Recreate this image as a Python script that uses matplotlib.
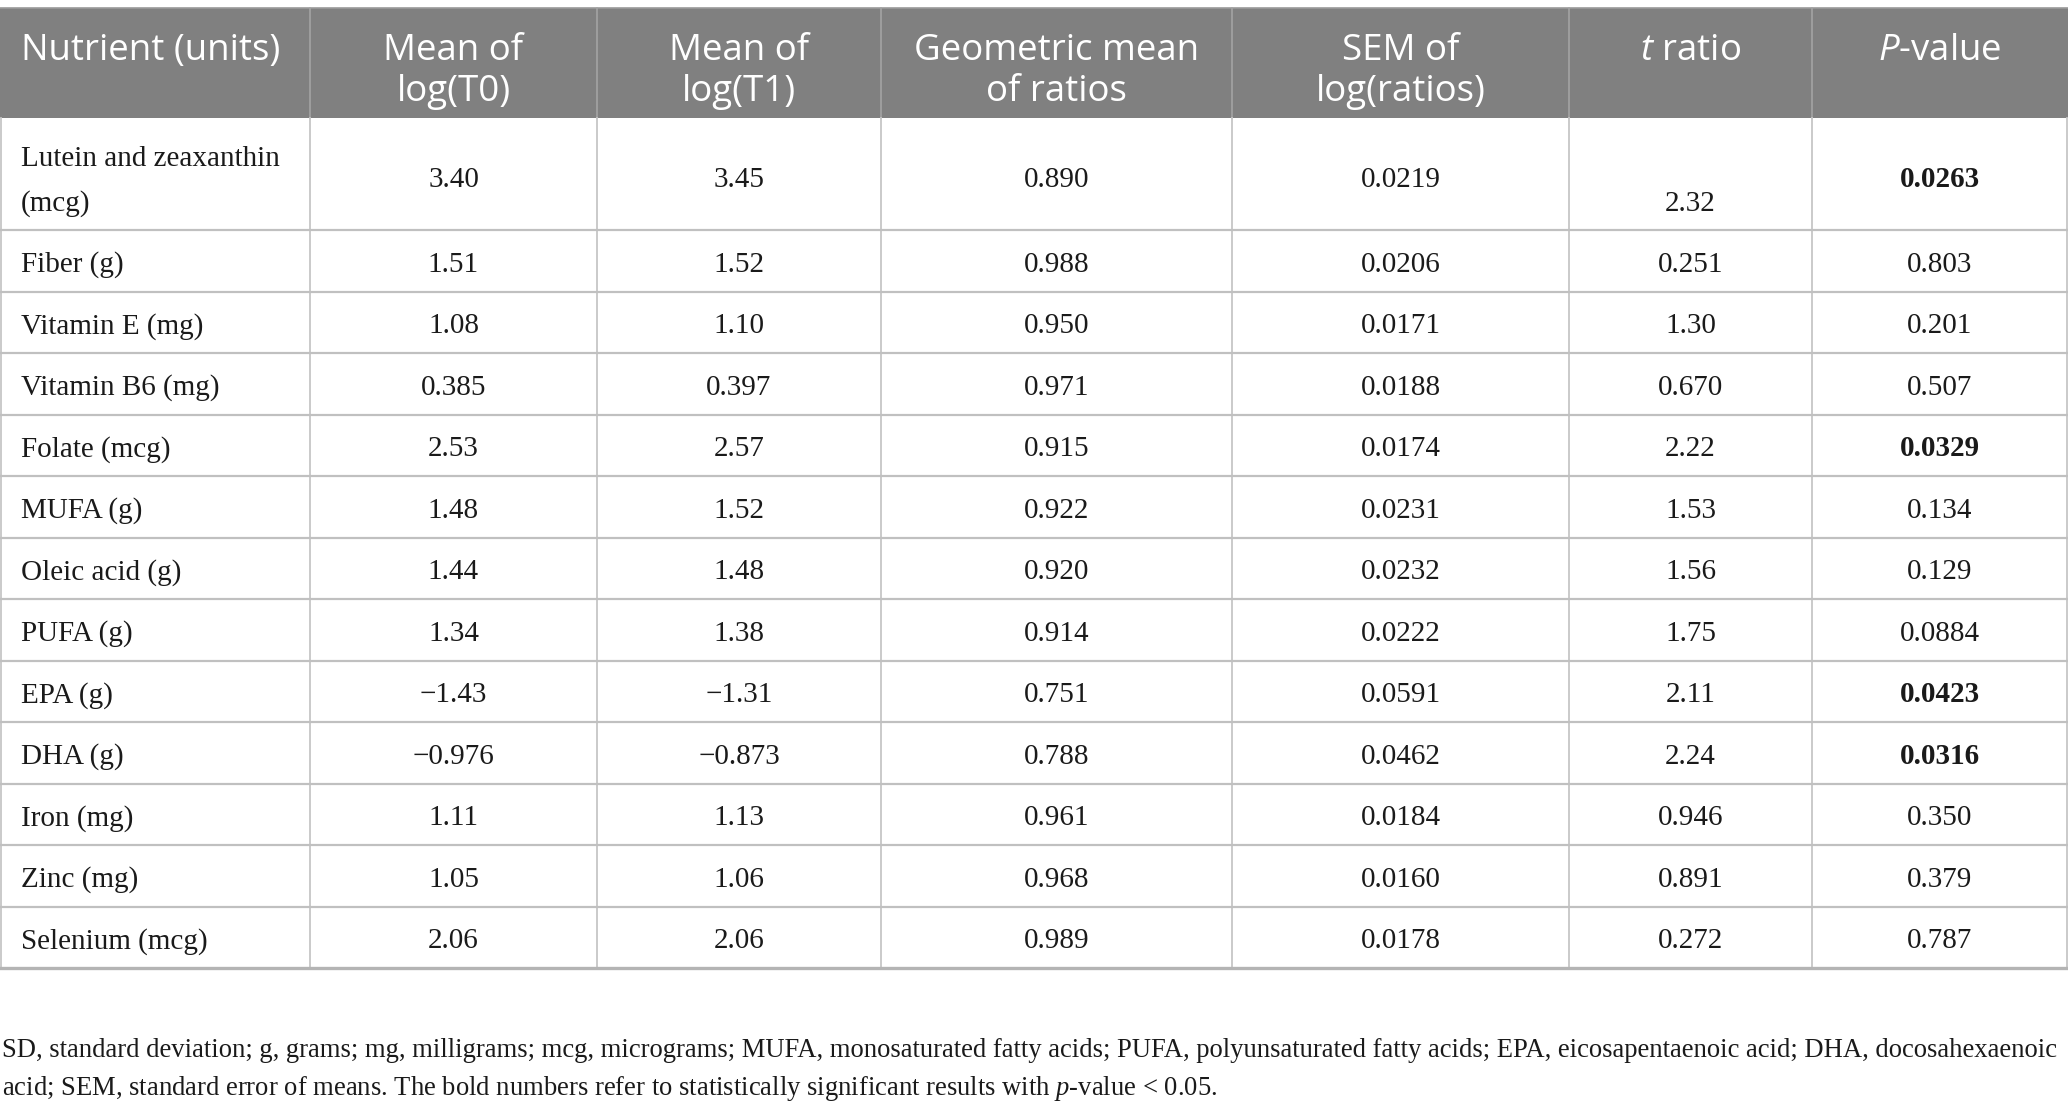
import matplotlib.pyplot as plt

plt.rcParams['mathtext.fontset'] = 'custom'
plt.rcParams['mathtext.rm'] = 'Liberation Serif'
plt.rcParams['mathtext.it'] = 'Liberation Serif:italic'
plt.rcParams['mathtext.sf'] = 'Open Sans:italic'

# table content
headers = ["Nutrient (units)", "Mean of\nlog(T0)", "Mean of\nlog(T1)",
           "Geometric mean\nof ratios", "SEM of\nlog(ratios)",
           r"$\mathsf{t}$ ratio", r"$\mathsf{P}$-value"]
nutrients = ["Lutein and zeaxanthin\n(mcg)", "Fiber (g)", "Vitamin E (mg)", "Vitamin B6 (mg)",
             "Folate (mcg)", "MUFA (g)", "Oleic acid (g)", "PUFA (g)", "EPA (g)", "DHA (g)",
             "Iron (mg)", "Zinc (mg)", "Selenium (mcg)"]
mean_t0 = ["3.40", "1.51", "1.08", "0.385", "2.53", "1.48", "1.44", "1.34", "\u22121.43",
           "\u22120.976", "1.11", "1.05", "2.06"]
mean_t1 = ["3.45", "1.52", "1.10", "0.397", "2.57", "1.52", "1.48", "1.38", "\u22121.31",
           "\u22120.873", "1.13", "1.06", "2.06"]
geo_mean = ["0.890", "0.988", "0.950", "0.971", "0.915", "0.922", "0.920", "0.914", "0.751",
            "0.788", "0.961", "0.968", "0.989"]
sem_log = ["0.0219", "0.0206", "0.0171", "0.0188", "0.0174", "0.0231", "0.0232", "0.0222",
           "0.0591", "0.0462", "0.0184", "0.0160", "0.0178"]
t_ratio = ["2.32", "0.251", "1.30", "0.670", "2.22", "1.53", "1.56", "1.75", "2.11", "2.24",
           "0.946", "0.891", "0.272"]
p_value = ["0.0263", "0.803", "0.201", "0.507", "0.0329", "0.134", "0.129", "0.0884", "0.0423",
           "0.0316", "0.350", "0.379", "0.787"]
footnote = ["SD, standard deviation; g, grams; mg, milligrams; mcg, micrograms; MUFA, monosaturated "
            "fatty acids; PUFA, polyunsaturated fatty acids; EPA, eicosapentaenoic acid; DHA, docosahexaenoic",
            r"acid; SEM, standard error of means. The bold numbers refer to statistically significant "
            r"results with $\mathit{p}$-value < 0.05."]

# layout (pixels of the 2068x1112 image)
col_edges = [0, 310, 597, 881, 1232, 1569, 1812, 2068]
head_top, head_bot = 8, 118
first_bot, row_h = 230, 61.5

fig = plt.figure(figsize=(20.68, 11.12), dpi=100)
ax = fig.add_axes([0, 0, 1, 1])
ax.set_xlim(0, 2068)
ax.set_ylim(1112, 0)
ax.axis('off')
renderer = fig.canvas.get_renderer()


def fit_size(s, width, **kw):
    t = ax.text(0, 0, s, fontsize=20, **kw)
    w = t.get_window_extent(renderer).width
    t.remove()
    return 20 * width / w


head_fs = fit_size("Nutrient (units)", 259, family="Open Sans")
body_fs = fit_size("Lutein and zeaxanthin", 259, family="Liberation Serif")
foot_fs = fit_size(footnote[0], 2057, family="Liberation Serif")

row_edges = [head_bot, first_bot] + [first_bot + row_h * (i + 1) for i in range(len(nutrients) - 1)]
table_bot = row_edges[-1]

# header band
ax.fill_between([0, 2068], head_top, head_bot, color="#808080", lw=0)
ax.plot([0, 2068], [head_top, head_top], color="#9a9a9a", lw=1.2)
for x in col_edges[1:-1]:
    ax.plot([x, x], [head_top, head_bot], color="#a3a3a3", lw=1.2)
    ax.plot([x, x], [head_bot, table_bot], color="#c6c6c6", lw=1.3)
for x in [0.7, 2067.3]:
    ax.plot([x, x], [head_bot, table_bot], color="#c6c6c6", lw=1.3)
for y in row_edges[1:-1]:
    ax.plot([0, 2068], [y, y], color="#c0c0c0", lw=1.6)
ax.plot([0, 2068], [table_bot, table_bot], color="#b4b4b4", lw=2.4)

for j, h in enumerate(headers):
    lines = h.split("\n")
    for k, line in enumerate(lines):
        if j == 0:
            ax.text(21, 60 + 41 * k, line, ha="left", va="baseline", color="white",
                    fontsize=head_fs, family="Open Sans")
        else:
            ax.text((col_edges[j] + col_edges[j + 1]) / 2, 60 + 41 * k, line, ha="center",
                    va="baseline", color="white", fontsize=head_fs, family="Open Sans")

columns = [mean_t0, mean_t1, geo_mean, sem_log, t_ratio, p_value]
for i, name in enumerate(nutrients):
    top, bot = row_edges[i], row_edges[i + 1]
    mid = (top + bot) / 2
    name_lines = name.split("\n")
    if len(name_lines) > 1:
        base = [top + 48 + 45 * k for k in range(len(name_lines))]
        val_base = mid + 13
    else:
        base = [mid + 11]
        val_base = mid + 11
    for k, line in enumerate(name_lines):
        ax.text(21, base[k], line, ha="left", va="baseline", color="#1a1a1a",
                fontsize=body_fs, family="Liberation Serif")
    for j, col in enumerate(columns):
        xc = (col_edges[j + 1] + col_edges[j + 2]) / 2
        yb = val_base
        # t ratio of the first row sits on the second text line in the source table
        if col is t_ratio and len(name_lines) > 1:
            yb = base[-1]
        bold = col is p_value and float(p_value[i]) < 0.05
        ax.text(xc, yb, col[i], ha="center", va="baseline", color="#1a1a1a",
                fontsize=body_fs, family="Liberation Serif",
                fontweight="bold" if bold else "normal")

for k, line in enumerate(footnote):
    ax.text(2, 1057 + 38 * k, line, ha="left", va="baseline", color="#1a1a1a",
            fontsize=foot_fs, family="Liberation Serif")

fig.savefig("out.png", dpi=100)
